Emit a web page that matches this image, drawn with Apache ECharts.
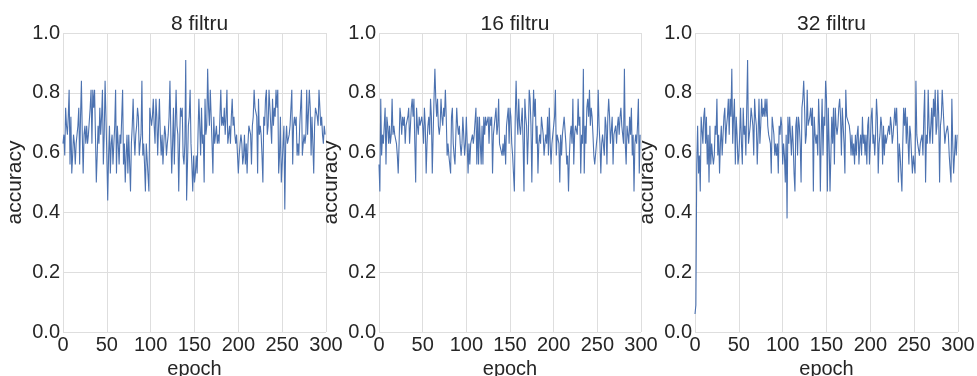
<!DOCTYPE html>
<html>
<head>
<meta charset="utf-8">
<script src="https://cdn.jsdelivr.net/npm/echarts@6/dist/echarts.min.js"></script>
<style>
html,body{margin:0;padding:0;background:#fff;}
#chart{width:977px;height:376px;}
</style>
</head>
<body>
<div id="chart"></div>
<script>
const panelTitles = ["8 filtru", "16 filtru", "32 filtru"];
const xTicks = [0, 50, 100, 150, 200, 250, 300];
const yTicks = [0.0, 0.2, 0.4, 0.6, 0.8, 1.0];

const acc8 = [
0.63,0.66,0.59,0.75,0.69,0.66,0.72,0.81,0.56,0.72,0.53,0.59,0.66,0.63,0.56,0.63,0.66,0.69,0.75,0.56,
0.72,0.84,0.66,0.53,0.66,0.69,0.63,0.69,0.63,0.66,0.66,0.75,0.81,0.63,0.81,0.75,0.81,0.66,0.5,0.59,
0.69,0.63,0.75,0.66,0.72,0.81,0.56,0.66,0.84,0.72,0.59,0.44,0.59,0.69,0.53,0.63,0.66,0.56,0.63,0.69,
0.81,0.53,0.69,0.63,0.56,0.66,0.63,0.72,0.81,0.56,0.63,0.5,0.59,0.66,0.53,0.66,0.66,0.47,0.63,0.69,
0.78,0.66,0.59,0.66,0.69,0.75,0.72,0.59,0.63,0.66,0.84,0.59,0.63,0.56,0.47,0.63,0.63,0.63,0.47,0.75,
0.72,0.69,0.72,0.78,0.69,0.63,0.78,0.72,0.59,0.69,0.78,0.66,0.59,0.66,0.56,0.63,0.69,0.66,0.59,0.63,
0.66,0.72,0.84,0.66,0.53,0.63,0.75,0.56,0.69,0.81,0.69,0.66,0.47,0.63,0.75,0.72,0.75,0.59,0.56,0.63,
0.91,0.44,0.56,0.69,0.72,0.81,0.63,0.56,0.47,0.59,0.5,0.53,0.59,0.53,0.66,0.78,0.69,0.59,0.75,0.63,
0.66,0.5,0.78,0.66,0.69,0.88,0.75,0.69,0.81,0.72,0.63,0.53,0.72,0.63,0.66,0.69,0.63,0.66,0.63,0.72,
0.81,0.69,0.72,0.69,0.75,0.66,0.72,0.81,0.63,0.66,0.69,0.63,0.72,0.78,0.69,0.72,0.66,0.63,0.66,0.66,
0.53,0.59,0.63,0.66,0.63,0.56,0.59,0.66,0.56,0.63,0.53,0.63,0.69,0.69,0.66,0.56,0.69,0.72,0.81,0.75,
0.75,0.72,0.53,0.78,0.66,0.69,0.66,0.59,0.5,0.72,0.69,0.78,0.81,0.66,0.69,0.81,0.75,0.69,0.63,0.78,
0.69,0.75,0.72,0.81,0.75,0.81,0.53,0.59,0.72,0.5,0.56,0.63,0.69,0.41,0.63,0.69,0.63,0.63,0.66,0.69,
0.75,0.81,0.56,0.69,0.72,0.69,0.72,0.59,0.63,0.59,0.69,0.75,0.81,0.59,0.63,0.66,0.63,0.66,0.81,0.66,
0.66,0.81,0.75,0.59,0.72,0.63,0.53,0.69,0.75,0.75,0.72,0.69,0.81,0.75,0.69,0.72,0.66,0.63,0.69,0.66
];

const acc16 = [
0.56,0.47,0.78,0.59,0.66,0.63,0.69,0.75,0.56,0.72,0.69,0.63,0.69,0.63,0.66,0.78,0.66,0.69,0.66,0.66,
0.63,0.59,0.53,0.63,0.75,0.72,0.66,0.72,0.69,0.72,0.63,0.69,0.69,0.72,0.75,0.63,0.69,0.75,0.78,0.72,
0.78,0.63,0.5,0.75,0.69,0.66,0.72,0.69,0.69,0.72,0.69,0.63,0.75,0.69,0.53,0.63,0.69,0.72,0.66,0.78,
0.72,0.53,0.66,0.78,0.88,0.78,0.72,0.78,0.69,0.66,0.69,0.78,0.72,0.69,0.75,0.72,0.81,0.72,0.59,0.63,
0.59,0.56,0.53,0.72,0.75,0.63,0.59,0.56,0.66,0.75,0.69,0.66,0.69,0.63,0.59,0.63,0.72,0.66,0.59,0.63,
0.72,0.63,0.53,0.63,0.56,0.63,0.63,0.66,0.63,0.66,0.66,0.75,0.56,0.72,0.56,0.72,0.63,0.56,0.69,0.56,
0.72,0.66,0.72,0.69,0.69,0.72,0.63,0.72,0.69,0.72,0.53,0.66,0.69,0.72,0.75,0.66,0.69,0.78,0.63,0.63,
0.63,0.59,0.63,0.59,0.66,0.56,0.69,0.72,0.75,0.63,0.75,0.72,0.63,0.59,0.53,0.47,0.72,0.84,0.72,0.66,
0.78,0.69,0.66,0.66,0.75,0.63,0.47,0.78,0.72,0.69,0.56,0.66,0.81,0.78,0.69,0.5,0.69,0.81,0.72,0.78,
0.63,0.69,0.53,0.63,0.66,0.63,0.72,0.69,0.66,0.59,0.63,0.66,0.63,0.72,0.59,0.75,0.63,0.56,0.63,0.66,
0.66,0.72,0.81,0.59,0.66,0.66,0.63,0.5,0.66,0.59,0.66,0.69,0.72,0.72,0.63,0.56,0.59,0.47,0.59,0.66,
0.69,0.63,0.78,0.56,0.66,0.69,0.69,0.66,0.78,0.69,0.72,0.53,0.66,0.63,0.88,0.53,0.69,0.63,0.75,0.78,
0.72,0.81,0.69,0.75,0.72,0.66,0.59,0.56,0.56,0.63,0.66,0.81,0.69,0.63,0.53,0.63,0.66,0.66,0.59,0.72,
0.69,0.56,0.72,0.78,0.72,0.63,0.63,0.72,0.56,0.66,0.66,0.69,0.63,0.69,0.72,0.66,0.72,0.75,0.69,0.66,
0.63,0.88,0.63,0.56,0.69,0.66,0.63,0.72,0.66,0.75,0.59,0.66,0.47,0.63,0.66,0.63,0.69,0.78,0.53,0.66
];

const acc32 = [
0.06,0.09,0.56,0.69,0.53,0.59,0.47,0.72,0.72,0.63,0.72,0.75,0.63,0.72,0.56,0.66,0.5,0.69,0.56,0.63,
0.59,0.56,0.59,0.69,0.66,0.78,0.59,0.66,0.53,0.63,0.69,0.59,0.66,0.72,0.75,0.63,0.69,0.72,0.78,0.66,
0.78,0.72,0.88,0.63,0.72,0.78,0.56,0.72,0.66,0.56,0.59,0.66,0.75,0.63,0.56,0.75,0.66,0.69,0.59,0.75,
0.91,0.63,0.66,0.69,0.75,0.72,0.69,0.59,0.78,0.72,0.69,0.56,0.66,0.78,0.63,0.69,0.78,0.72,0.75,0.72,
0.78,0.72,0.78,0.69,0.66,0.66,0.63,0.53,0.72,0.69,0.66,0.59,0.63,0.59,0.63,0.53,0.69,0.66,0.72,0.69,
0.56,0.63,0.59,0.5,0.66,0.38,0.72,0.63,0.72,0.72,0.59,0.69,0.63,0.53,0.47,0.69,0.72,0.59,0.72,0.69,
0.63,0.5,0.75,0.78,0.84,0.75,0.63,0.66,0.81,0.69,0.69,0.72,0.75,0.69,0.75,0.47,0.72,0.66,0.63,0.66,
0.59,0.78,0.69,0.47,0.66,0.78,0.59,0.72,0.69,0.84,0.78,0.47,0.75,0.63,0.47,0.59,0.72,0.63,0.75,0.56,
0.75,0.69,0.66,0.69,0.75,0.78,0.72,0.59,0.75,0.69,0.63,0.53,0.81,0.72,0.72,0.72,0.69,0.66,0.59,0.66,
0.59,0.63,0.56,0.66,0.59,0.66,0.69,0.56,0.63,0.66,0.59,0.72,0.63,0.66,0.59,0.66,0.56,0.69,0.72,0.56,
0.63,0.72,0.75,0.63,0.66,0.59,0.66,0.78,0.72,0.53,0.63,0.66,0.72,0.69,0.56,0.69,0.59,0.66,0.63,0.63,
0.63,0.69,0.66,0.72,0.69,0.63,0.66,0.66,0.75,0.69,0.75,0.66,0.5,0.63,0.59,0.59,0.47,0.63,0.75,0.69,
0.75,0.63,0.72,0.72,0.56,0.69,0.66,0.59,0.53,0.59,0.56,0.53,0.84,0.66,0.63,0.63,0.59,0.63,0.63,0.66,
0.59,0.72,0.81,0.5,0.66,0.63,0.81,0.69,0.63,0.69,0.75,0.63,0.78,0.72,0.81,0.66,0.69,0.81,0.72,0.5,
0.69,0.72,0.81,0.75,0.75,0.63,0.66,0.66,0.69,0.66,0.59,0.59,0.5,0.78,0.63,0.53,0.59,0.66,0.59,0.66
];

const seriesValues = [acc8, acc16, acc32];

const textColor = '#262626';
const fontFamily = '"Liberation Sans", Arial, sans-serif';
const gridColor = '#dedede';
const lineColor = '#4c72b0';

const gridLefts = [63, 379, 695];
const gridWidths = [263, 262, 263];

const option = {
  animation: false,
  backgroundColor: '#ffffff',
  textStyle: { fontFamily: fontFamily, color: textColor },
  title: panelTitles.map((t, i) => ({
    text: t,
    left: gridLefts[i] + gridWidths[i] / 2,
    textAlign: 'center',
    top: 9,
    textStyle: { fontSize: 21, fontWeight: 'normal', color: textColor, fontFamily: fontFamily }
  })),
  grid: gridLefts.map((l, i) => ({ left: l, width: gridWidths[i], top: 33, height: 299, containLabel: false, outerBoundsMode: 'none' })),
  xAxis: gridLefts.map((l, i) => ({
    type: 'value', gridIndex: i, min: xTicks[0], max: xTicks[xTicks.length - 1], interval: 50,
    name: 'epoch', nameLocation: 'middle', nameGap: 21,
    nameTextStyle: { fontSize: 20, color: textColor, fontFamily: fontFamily },
    axisLine: { show: false }, axisTick: { show: false },
    axisLabel: { fontSize: 20, color: textColor, margin: 3, fontFamily: fontFamily, showMinLabel: true, showMaxLabel: true },
    splitLine: { show: true, lineStyle: { color: gridColor, width: 1 } }
  })),
  yAxis: gridLefts.map((l, i) => ({
    type: 'value', gridIndex: i, min: yTicks[0], max: yTicks[yTicks.length - 1], interval: 0.2,
    name: 'accuracy', nameLocation: 'middle', nameGap: 37,
    nameTextStyle: { fontSize: 21, color: textColor, fontFamily: fontFamily },
    axisLine: { show: false }, axisTick: { show: false },
    axisLabel: { fontSize: 20, color: textColor, margin: 3, fontFamily: fontFamily, formatter: v => v.toFixed(1) },
    splitLine: { show: true, lineStyle: { color: gridColor, width: 1 } }
  })),
  series: seriesValues.map((vals, i) => ({
    type: 'line', xAxisIndex: i, yAxisIndex: i,
    data: vals.map((v, k) => [k, v]),
    showSymbol: false, symbol: 'none',
    lineStyle: { color: lineColor, width: 1.1 },
    silent: true
  }))
};

const chart = echarts.init(document.getElementById('chart'), null, { renderer: 'canvas' });
chart.setOption(option);
</script>
</body>
</html>
